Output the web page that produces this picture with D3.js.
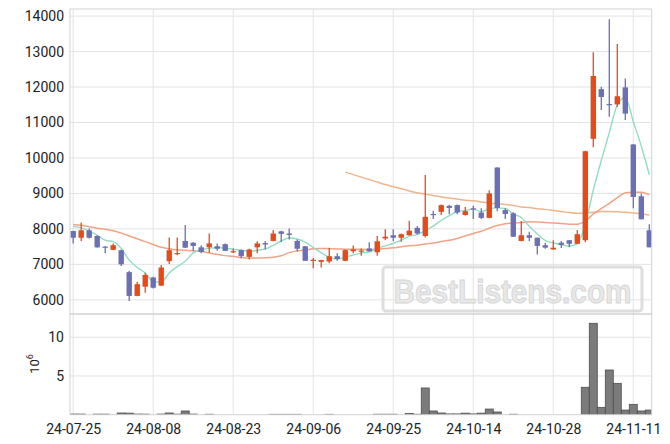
<!DOCTYPE html>
<html><head><meta charset="utf-8">
<script src="https://cdn.jsdelivr.net/npm/d3@7/dist/d3.min.js"></script>
<style>
html,body{margin:0;padding:0;background:#fff;}
svg{display:block;font-family:Roboto,"DejaVu Sans",sans-serif;}
</style></head><body>
<svg id="c" width="670" height="444"></svg>
<script>
const dates = ["24-07-25","24-07-26","24-07-29","24-07-30","24-07-31","24-08-01","24-08-02","24-08-05","24-08-06","24-08-07",
"24-08-08","24-08-09","24-08-12","24-08-13","24-08-14","24-08-16","24-08-19","24-08-20","24-08-21","24-08-22",
"24-08-23","24-08-26","24-08-27","24-08-28","24-08-29","24-08-30","24-09-02","24-09-03","24-09-04","24-09-05",
"24-09-06","24-09-09","24-09-10","24-09-11","24-09-12","24-09-13","24-09-19","24-09-20","24-09-23","24-09-24",
"24-09-25","24-09-26","24-09-27","24-09-30","24-10-02","24-10-04","24-10-07","24-10-08","24-10-10","24-10-11",
"24-10-14","24-10-15","24-10-16","24-10-17","24-10-18","24-10-21","24-10-22","24-10-23","24-10-24","24-10-25",
"24-10-28","24-10-29","24-10-30","24-10-31","24-11-01","24-11-04","24-11-05","24-11-06","24-11-07","24-11-08",
"24-11-11","24-11-12","24-11-13"];
const open  = [7940,7750,7960,7800,7500,7410,7400,6780,6110,6370, 6630,6400,7090,7300,7660,7610,7480,7480,7510,7570,
               7350,7400,7210,7480,7600,7660,7930,7870,7660,7510, 7100,7070,7080,7230,7100,7370,7360,7450,7340,7730,
               7820,7750,7820,8030,7800,8420,8480,8650,8670,8390, 8580,8460,8310,9730,8530,8440,7660,7820,7750,7540,
               7420,7610,7680,7580,7680,10540,11940,11520,11510,11990, 10380,8920,7960];
const high  = [7950,8180,8010,7820,7510,7590,7410,6820,6510,6760, 6650,6980,7760,7760,8110,7620,7540,7870,7590,7590,
               7450,7420,7440,7650,7660,7970,7950,8010,7700,7520, 7180,7130,7470,7310,7420,7530,7450,7620,7800,7990,
               7990,7870,8230,8080,9520,8510,8690,8680,8690,8620, 8650,8580,9090,9740,8580,8470,8220,7920,7760,7610,
               7680,7660,7690,7970,10200,12980,12010,13910,13210,12240, 10390,9000,8130];
const low   = [7590,7660,7730,7470,7310,7400,6950,5970,6100,6200, 6320,6390,7010,7260,7460,7370,7310,7330,7380,7380,
               7320,7170,7140,7310,7420,7650,7620,7700,7360,7100, 6890,6910,7030,7100,7090,7310,7240,7360,7240,7680,
               7650,7640,7810,7840,7760,8280,8390,8410,8410,8380, 8280,8280,8300,8500,8280,7770,7650,7650,7280,7440,
               7410,7460,7480,7570,7620,10300,11350,11160,11440,11070, 8580,8270,7480];
const close = [7750,7960,7750,7480,7470,7540,7000,6110,6440,6700, 6340,6910,7400,7320,7470,7520,7350,7590,7440,7380,
               7370,7230,7420,7590,7560,7870,7860,7830,7440,7100, 7130,7120,7230,7150,7400,7420,7390,7370,7650,7780,
               7750,7850,7950,7870,8340,8390,8670,8590,8460,8500, 8560,8310,9000,8590,8420,7780,7820,7750,7520,7470,
               7470,7550,7580,7850,10190,12310,11720,11500,11740,11250, 8900,8270,7480];
// volume in millions
const volume = [0.08,0.08,0,0.07,0.07,0,0.22,0.2,0.08,0.07, 0,0.08,0.22,0.07,0.48,0.08,0,0.06,0,0,
                0,0,0,0,0,0.05,0.05,0.05,0.05,0, 0,0,0.05,0,0,0,0,0,0.06,0.06,
                0.06,0,0.17,0.06,3.45,0.48,0.22,0.1,0.1,0.2, 0.1,0.2,0.73,0.35,0,0.06,0,0,0,0,
                0,0,0,0,3.54,11.8,0.95,5.77,4.05,0.6, 1.34,0.48,0.6];
const ma5 = [8070,8030,7940,7820,7681,7639,7447,7119,6912,6758, 6517,6500,6758,6934,7088,7324,7413,7450,7474,7457,
             7425,7400,7366,7397,7433,7535,7661,7744,7714,7621, 7473,7324,7204,7146,7206,7264,7318,7347,7448,7523,
             7589,7681,7796,7839,7952,8080,8243,8373,8491,8523, 8557,8486,8567,8593,8576,8420,8322,8072,7858,7668,
             7605,7551,7517,7583,8128,9097,9931,10715,11494,11704, 11023,10332,9527];
const ma20 = [8126,8100,8060,8020,7990,7950,7880,7800,7720,7640, 7560,7480,7440,7410,7395,7385,7360,7320,7280,7246,
              7226,7190,7174,7179,7184,7200,7244,7330,7380,7400, 7439,7450,7441,7433,7429,7424,7426,7415,7426,7446,
              7465,7496,7523,7537,7576,7601,7642,7680,7731,7801, 7872,7932,8020,8093,8144,8161,8183,8202,8195,8180,
              8166,8150,8132,8131,8224,8420,8572,8718,8882,9019, 9036,9034,8958];
const ma120 = [null,null,null,null,null,null,null,null,null,null, null,null,null,null,null,null,null,null,null,null,
               null,null,null,null,null,null,null,null,null,null, null,null,null,null,9600,9530,9460,9390,9320,9250,
               9190,9130,9070,9020,8980,8940,8900,8870,8840,8810, 8790,8760,8730,8710,8690,8660,8620,8600,8570,8550,
               8520,8490,8460,8440,8450,8470,8490,8490,8480,8470, 8450,8420,8390];
const priceTicks = [6000,7000,8000,9000,10000,11000,12000,13000,14000];
const volTicks = [5,10];
const xTickIdx = [0,10,20,30,40,50,60,70];

const svg = d3.select("#c");
const L = 70, R = 651.7, PT = 9, PB = 314, VB = 414.7;
const x = d3.scaleLinear().domain([-0.4, 72.3]).range([L, R]);
const y = d3.scaleLinear().domain([5600, 14200]).range([PB, PT]);
const yv = d3.scaleLinear().domain([0, 13]).range([VB, PB]);
const idx = d3.range(dates.length);

const gridC = "#e3e3e3", frameC = "#d2d2d2", textC = "#222";
const up = "#e64a19", down = "#6b6fb6";

svg.append("clipPath").attr("id","cp").append("rect").attr("x",L).attr("y",PT).attr("width",R-L).attr("height",PB-PT);
svg.append("clipPath").attr("id","cv").append("rect").attr("x",L).attr("y",PB).attr("width",R-L).attr("height",VB-PB);

// grids
const g = svg.append("g");
g.selectAll(".hg").data(priceTicks).join("line")
  .attr("x1",L).attr("x2",R).attr("y1",d=>y(d)).attr("y2",d=>y(d)).attr("stroke",gridC);
g.selectAll(".vg").data(volTicks).join("line")
  .attr("x1",L).attr("x2",R).attr("y1",d=>yv(d)).attr("y2",d=>yv(d)).attr("stroke",gridC);
g.selectAll(".xg").data(xTickIdx).join("line")
  .attr("x1",d=>x(d)).attr("x2",d=>x(d)).attr("y1",PT).attr("y2",VB).attr("stroke",gridC);

// watermark
const wm = svg.append("g");
wm.append("rect").attr("x",383).attr("y",267).attr("width",259).attr("height",44).attr("rx",3)
  .attr("fill","none").attr("stroke","#dedede").attr("stroke-width",3);
wm.append("text").attr("x",512.5).attr("y",303).attr("text-anchor","middle")
  .attr("font-family","'Liberation Sans',Arial,sans-serif").attr("font-weight","bold").attr("font-size",33)
  .attr("textLength",238).attr("lengthAdjust","spacingAndGlyphs")
  .attr("fill","#e8e8e8").attr("stroke","#d6d6d6").attr("stroke-width",1)
  .text("BestListens.com");

// volume bars
const vg = svg.append("g").attr("clip-path","url(#cv)");
vg.selectAll("rect").data(idx.filter(i=>volume[i]>0)).join("rect")
  .attr("x",i=>x(i)-4).attr("width",8)
  .attr("y",i=>yv(volume[i])).attr("height",i=>Math.max(0.5,VB-yv(volume[i])))
  .attr("fill","#7b7b7b").attr("stroke","#4f4f4f").attr("stroke-width",0.8);

// MA lines
const pg = svg.append("g").attr("clip-path","url(#cp)");
function maLine(arr, color, w){
  const ln = d3.line().defined(i=>arr[i]!=null).x(i=>x(i)).y(i=>y(arr[i])).curve(d3.curveMonotoneX);
  pg.append("path").attr("d",ln(idx)).attr("fill","none").attr("stroke",color).attr("stroke-width",w);
}
maLine(ma120,"#f0b48c",1.5);
maLine(ma20,"#f1a385",1.5);
maLine(ma5,"#92dcc4",1.4);

// candles
const cg = pg.append("g");
const cs = cg.selectAll("g").data(idx).join("g");
cs.append("line").attr("x1",i=>x(i)).attr("x2",i=>x(i))
  .attr("y1",i=>y(high[i])).attr("y2",i=>y(low[i]))
  .attr("stroke",i=>close[i]>=open[i]?up:down).attr("stroke-width",1.3);
cs.append("rect").attr("x",i=>x(i)-2.7).attr("width",5.4)
  .attr("y",i=>y(Math.max(open[i],close[i])))
  .attr("height",i=>Math.max(1.2, y(Math.min(open[i],close[i]))-y(Math.max(open[i],close[i]))))
  .attr("fill",i=>close[i]>=open[i]?up:down);

// frames
svg.append("rect").attr("x",L).attr("y",PT).attr("width",R-L).attr("height",PB-PT)
  .attr("fill","none").attr("stroke",frameC);
svg.append("rect").attr("x",L).attr("y",PB).attr("width",R-L).attr("height",VB-PB)
  .attr("fill","none").attr("stroke",frameC);

// axes
const ya = svg.append("g").attr("transform",`translate(${L},0)`)
  .call(d3.axisLeft(y).tickValues(priceTicks).tickSize(0).tickPadding(6).tickFormat(d3.format("d")));
const va = svg.append("g").attr("transform",`translate(${L},0)`)
  .call(d3.axisLeft(yv).tickValues(volTicks).tickSize(0).tickPadding(6));
const xa = svg.append("g").attr("transform",`translate(0,${VB})`)
  .call(d3.axisBottom(x).tickValues(xTickIdx).tickSize(0).tickPadding(6).tickFormat(i=>dates[i]));
[ya,va,xa].forEach(a=>{
  a.select(".domain").remove();
  a.selectAll("text").attr("font-family","Roboto,sans-serif").attr("font-size",14).attr("fill",textC);
});
xa.selectAll("text").attr("dy","0.95em");

// 10^6 label
const ex = svg.append("text").attr("transform","translate(38.5,364) rotate(-90)")
  .attr("text-anchor","middle").attr("font-family","Roboto,sans-serif").attr("font-size",13).attr("fill",textC);
ex.append("tspan").text("10");
ex.append("tspan").attr("dy",-6).attr("font-size",9).text("6");
</script>
</body></html>
